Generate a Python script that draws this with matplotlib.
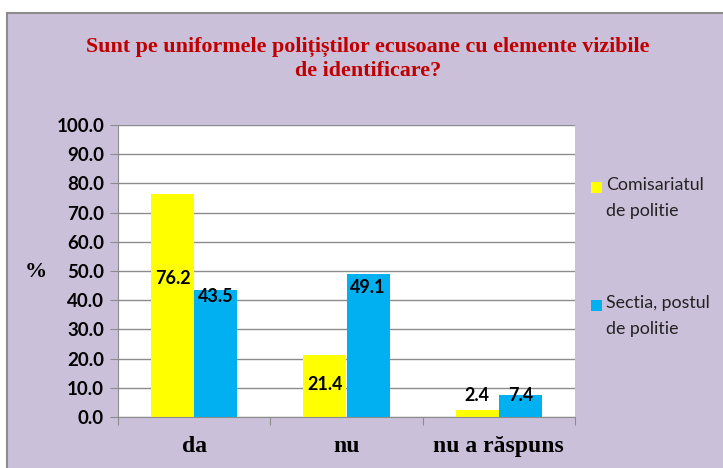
import matplotlib.pyplot as plt
import numpy as np
from matplotlib.patches import Rectangle

categories = ["da", "nu", "nu a răspuns"]
series_names = ["Comisariatul\nde politie", "Sectia, postul\nde politie"]
comisariat = [76.2, 21.4, 2.4]
sectia = [43.5, 49.1, 7.4]
yticks = [0, 10, 20, 30, 40, 50, 60, 70, 80, 90, 100]

W, H = 723, 468
fig = plt.figure(figsize=(W / 100, H / 100), dpi=100)
bg = "#CBC0DA"
fig.patch.set_facecolor("white")

# lavender panel with grey frame (cut off right/bottom)
fig.patches.append(Rectangle((7 / W, -0.05), 1.1, 1 - 13 / H + 0.05,
                             transform=fig.transFigure, facecolor=bg,
                             edgecolor="#8C8C8C", linewidth=1.5, zorder=-1))

ax = fig.add_axes([118 / W, 1 - 417 / H, (575 - 118) / W, (417 - 125) / H])
ax.set_facecolor("white")

x = np.arange(len(categories))
w = 0.283
ax.bar(x - w / 2, comisariat, w, color="#FFFF00", zorder=2)
ax.bar(x + w / 2, sectia, w, color="#00B0F0", zorder=2)

# hand-placed label heights, as in the original
lab1_y = [47.3, 11.0, 7.5]
lab2_y = [41.1, 44.5, 7.5]
lab_font = dict(family="Lato", fontsize=13, fontweight="bold",
                ha="center", va="center", zorder=3)
for i in range(len(categories)):
    ax.text(x[i] - w / 2, lab1_y[i], f"{comisariat[i]:.1f}", **lab_font)
    ax.text(x[i] + w / 2, lab2_y[i], f"{sectia[i]:.1f}", **lab_font)

ax.set_xlim(-0.5, 2.5)
ax.set_ylim(0, 100)
ax.set_yticks(yticks)
ax.set_yticklabels([f"{v:.1f}" for v in yticks], family="Lato",
                   fontweight="bold", fontsize=13.5)
ax.yaxis.grid(True, color="#8C8C8C", linewidth=1, zorder=0)
ax.set_axisbelow(True)

ax.set_xticks([-0.5, 0.5, 1.5, 2.5])
ax.set_xticklabels([])
ax.set_xticks(x, minor=True)
ax.set_xticklabels(categories, minor=True, family="Liberation Serif",
                   fontweight="bold", fontsize=17)
ax.tick_params(axis="x", which="minor", length=0, pad=14)
ax.tick_params(axis="x", which="major", length=6, color="#8C8C8C")
ax.tick_params(axis="y", length=6, color="#8C8C8C", pad=4)

for s in ["top", "right"]:
    ax.spines[s].set_visible(False)
for s in ["left", "bottom"]:
    ax.spines[s].set_color("#8C8C8C")

fig.text(25 / W, 1 - 272 / H, "%", family="Liberation Serif",
         fontweight="bold", fontsize=16, ha="left", va="center")

fig.text(368 / W, 1 - 59 / H,
         "Sunt pe uniformele polițiștilor ecusoane cu elemente vizibile\nde identificare?",
         family="Liberation Serif", fontweight="bold", fontsize=15.8,
         color="#C00000", ha="center", va="center", linespacing=1.3)

# legend
leg_items = [(series_names[0], "#FFFF00", 187), (series_names[1], "#00B0F0", 305)]
for name, col, ypx in leg_items:
    fig.patches.append(Rectangle((591 / W, 1 - (ypx + 6) / H), 11 / W, 11 / H,
                                 transform=fig.transFigure, facecolor=col,
                                 edgecolor="none"))
    fig.text(606 / W, 1 - (ypx - 10) / H, name, family="Lato", fontsize=12.8,
             ha="left", va="top", linespacing=1.75, color="#222222")

fig.savefig("out.png", dpi=100, facecolor=fig.get_facecolor())
